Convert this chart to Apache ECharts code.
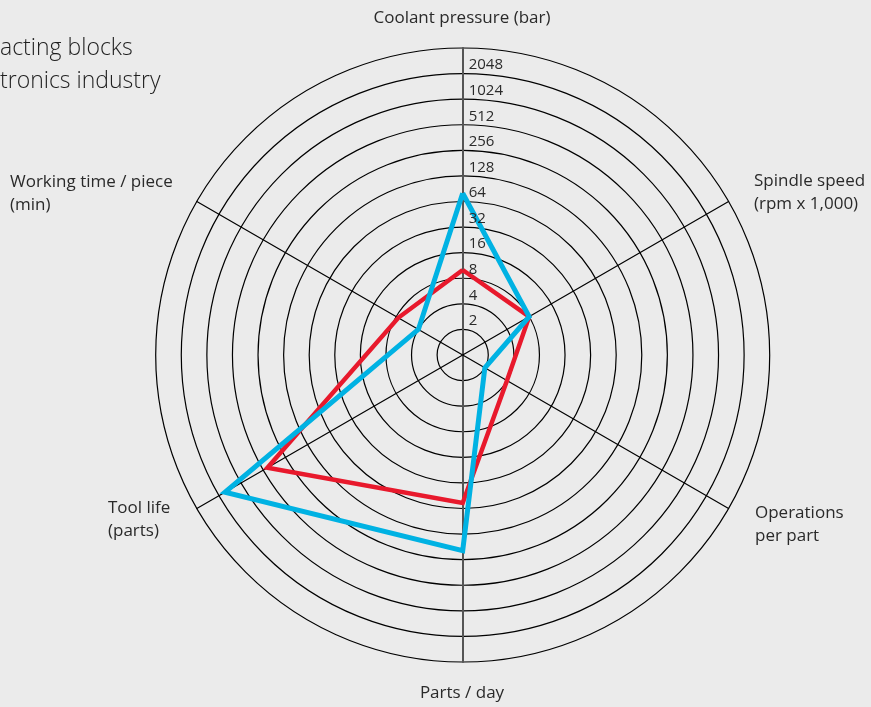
<!DOCTYPE html>
<html><head><meta charset="utf-8">
<script src="https://cdn.jsdelivr.net/npm/echarts@6/dist/echarts.min.js"></script>
<style>html,body{margin:0;padding:0;background:#ebebeb;overflow:hidden}#c{width:871px;height:707px;}</style>
</head><body><div id="c"></div>
<script>
// ---- data ----
const titleLines = ["acting blocks", "tronics industry"];
// indicators, counter-clockwise from the top (ECharts radar order)
const categories = [
  "Coolant pressure (bar)",
  "Working time / piece\n(min)",
  "Tool life\n(parts)",
  "Parts / day",
  "Operations\nper part",
  "Spindle speed\n(rpm x 1,000)"
];
const tickLabels = ["2", "4", "8", "16", "32", "64", "128", "256", "512", "1024", "2048"];
const seriesRed  = [10, 7.5, 450, 55, 4, 8];
const seriesBlue = [80, 4, 1700, 200, 2, 8];

// ---- layout ----
const CX = 462.7, CY = 355, R = 307, RINGS = 12;
const FONT = '"Open Sans", "Noto Sans", sans-serif';
const TXT = '#2a2a2a';
const nameLayout = [
  {x: 462, y: 7, align: 'center'},
  {x: 10, y: 171, align: 'left'},
  {x: 108, y: 497, align: 'left'},
  {x: 462, y: 682, align: 'center'},
  {x: 755, y: 502, align: 'left'},
  {x: 754, y: 170, align: 'left'}
];

const chart = echarts.init(document.getElementById('c'), null, {renderer: 'canvas'});
const log2 = v => Math.log2(v);

const graphics = [];
graphics.push({
  type: 'text', left: 0, top: 32, z: 10,
  style: {text: titleLines.join('\n'), font: '300 23px ' + FONT, fill: '#1e1e1e', lineHeight: 33}
});
categories.forEach((c, i) => {
  const L = nameLayout[i];
  graphics.push({
    type: 'text', x: L.x, y: L.y, z: 10,
    style: {text: c, font: '17px ' + FONT, fill: TXT, align: L.align, verticalAlign: 'top', lineHeight: 23}
  });
});
tickLabels.forEach((t, k) => {
  graphics.push({
    type: 'text', x: CX + 6, y: CY - (k + 1) * R / RINGS - 1, z: 10,
    style: {text: t, font: '15px ' + FONT, fill: TXT, align: 'left', verticalAlign: 'bottom'}
  });
});

const vertLine = {show: true, lineStyle: {color: '#555555', width: 2}};
chart.setOption({
  backgroundColor: '#ebebeb',
  animation: false,
  radar: {
    center: [CX, CY],
    radius: R,
    shape: 'circle',
    splitNumber: RINGS,
    startAngle: 90,
    axisName: {show: false},
    indicator: categories.map((c, i) => {
      const o = {name: c, min: 0, max: RINGS};
      if (i === 0 || i === 3) o.axisLine = vertLine;
      return o;
    }),
    axisLine: {show: true, lineStyle: {color: '#000000', width: 1.2}},
    splitLine: {show: true, lineStyle: {color: '#000000', width: 1.2}},
    splitArea: {show: false},
    axisLabel: {show: false},
    axisTick: {show: false}
  },
  graphic: graphics,
  series: [{
    type: 'radar',
    symbol: 'none',
    z: 2,
    data: [
      {value: seriesRed.map(log2), name: 'red',
       lineStyle: {color: '#e8192c', width: 4.5, join: 'miter'}, itemStyle: {color: '#e8192c'}},
      {value: seriesBlue.map(log2), name: 'blue',
       lineStyle: {color: '#00b2e3', width: 5, join: 'miter'}, itemStyle: {color: '#00b2e3'}}
    ]
  }]
});
</script>
</body></html>
